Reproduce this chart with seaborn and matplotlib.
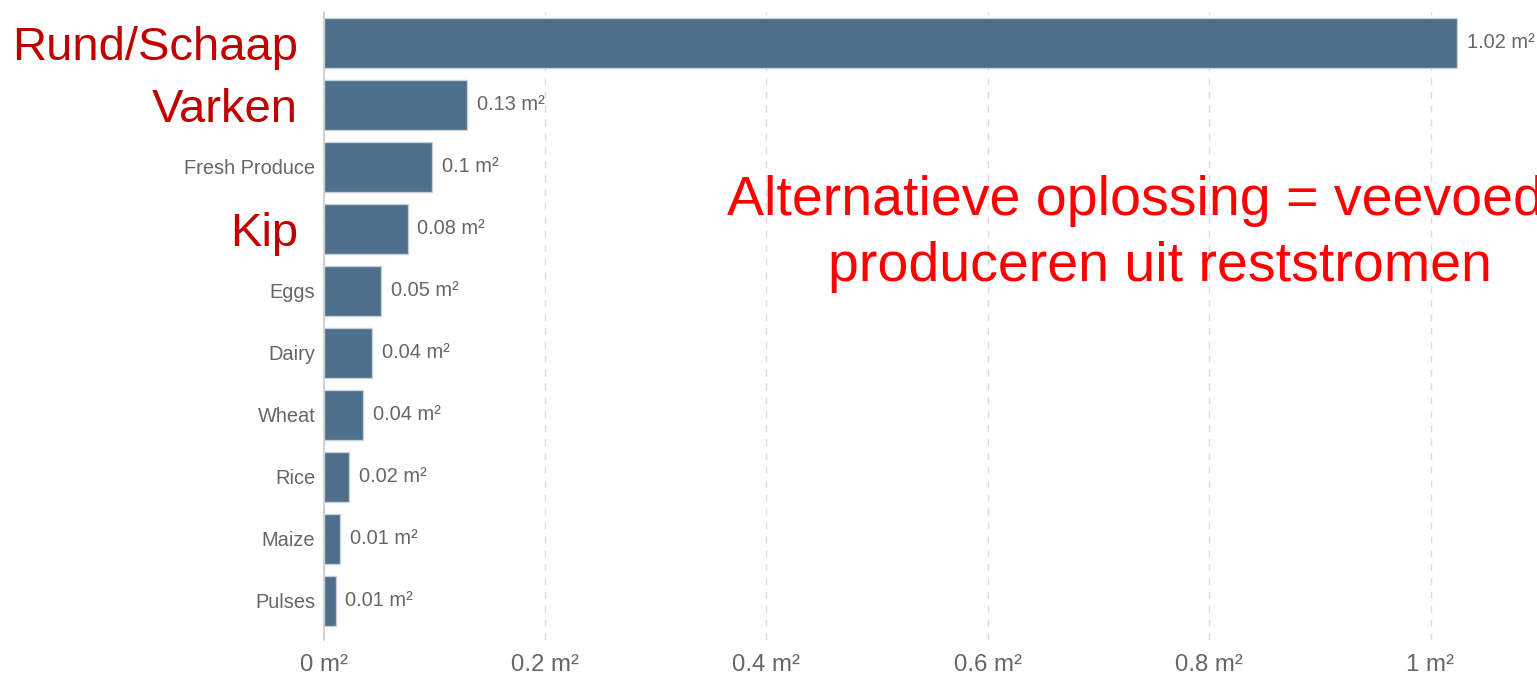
import matplotlib
matplotlib.use("Agg")
import matplotlib.pyplot as plt
import matplotlib.transforms as mtransforms
from matplotlib.ticker import FuncFormatter, FixedLocator
import seaborn as sns
import pandas as pd

categories = ["Rund/Schaap", "Varken", "Fresh Produce", "Kip", "Eggs",
              "Dairy", "Wheat", "Rice", "Maize", "Pulses"]
values = [1.024, 0.130, 0.098, 0.076, 0.052, 0.044, 0.036, 0.023, 0.015, 0.011]
highlighted = ["Rund/Schaap", "Varken", "Kip"]
x_ticks = [0, 0.2, 0.4, 0.6, 0.8, 1.0]
note_text = "Alternatieve oplossing = veevoeder\nproduceren uit reststromen"

df = pd.DataFrame({"category": categories, "value": values})

sns.set_theme(style="white")
plt.rcParams["font.family"] = ["Liberation Sans", "DejaVu Sans"]

fig = plt.figure(figsize=(15.37, 6.76), dpi=100)
ax = fig.add_axes([323.5 / 1537, 1 - 640 / 676, 1.09 * 1107 / 1537, 628 / 676])

sns.barplot(data=df, x="value", y="category", orient="h", color="#3B5F7F",
            saturation=1, width=0.8, alpha=0.9, edgecolor="#c9d4de",
            linewidth=1, ax=ax)

ax.set_xlim(0, 1.09)
ax.set_ylim(9.63, -0.5)
ax.set_xlabel("")
ax.set_ylabel("")

# grid
ax.xaxis.set_major_locator(FixedLocator(x_ticks))
ax.grid(axis="x", color="#dcdcdc", linestyle=(0, (5, 5)), linewidth=1)
ax.set_axisbelow(True)
for s in ["top", "right", "bottom"]:
    ax.spines[s].set_visible(False)
ax.spines["left"].set_color("#cccccc")
ax.spines["left"].set_linewidth(1.2)
ax.spines["left"].set_zorder(3)

def fmt_num(v):
    return f"{v:.2f}".rstrip("0").rstrip(".")

ax.xaxis.set_major_formatter(FuncFormatter(lambda v, p: f"{fmt_num(v)} m²"))
ax.tick_params(axis="x", length=0, pad=10, labelsize=17.3, labelcolor="#666666")
ax.tick_params(axis="y", length=0, pad=6, labelsize=14.4, labelcolor="#666666")

# y tick labels: highlighted categories replaced by large red text
ylabels = [c if c not in highlighted else "" for c in categories]
ax.set_yticks(range(len(categories)))
ax.set_yticklabels(ylabels)
trans = mtransforms.offset_copy(ax.get_yaxis_transform(), fig=fig, x=-25.5, y=0, units="dots")
for i, c in enumerate(categories):
    if c in highlighted:
        ax.text(0, i, c, transform=trans, ha="right", va="center_baseline",
                fontsize=34, color="#C00000")

# value labels
for cont in ax.containers:
    ax.bar_label(cont, labels=[f"{fmt_num(v)} m²" for v in values],
                 padding=7, fontsize=14.4, color="#666666")

# annotation
ax.text(1160 / 1537, 1 - 281 / 676, note_text, transform=fig.transFigure,
        ha="center", va="baseline", fontsize=40, color="#FF0000",
        linespacing=1.35, multialignment="center")

fig.savefig("out.png", dpi=100)
